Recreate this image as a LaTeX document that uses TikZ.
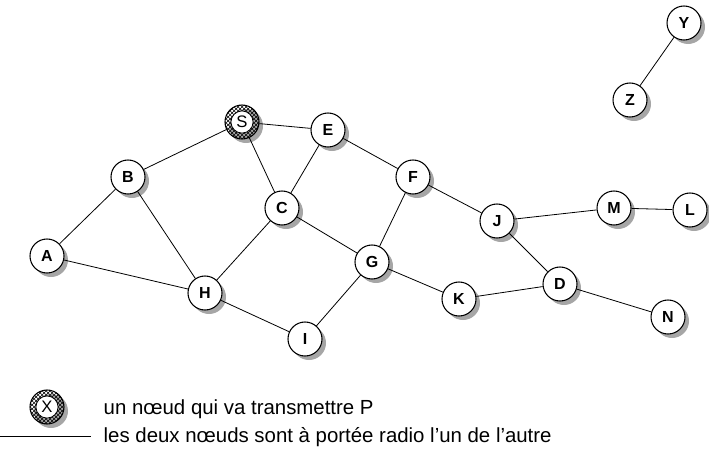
\documentclass[tikz,border=0pt]{standalone}
\usepackage{fontspec}
\setmainfont{Liberation Sans}
\usetikzlibrary{shadows,patterns}

\tikzset{
	station/.style={draw,circle,fill=white,line width=0.8pt,minimum size=25.5pt,inner sep=0pt,
		font=\fontsize{12}{13}\selectfont\bfseries,
		drop shadow={fill=black!35,opacity=1,shadow xshift=3pt,shadow yshift=-3pt}},
	sender/.style={station,pattern=crosshatch,font=\fontsize{12.5}{13}\selectfont,
		path picture={\fill[white] (path picture bounding box.center) circle (8.3pt);
			\draw[line width=0.6pt] (path picture bounding box.center) circle (8.3pt);}},
	link/.style={line width=0.6pt}
}

\begin{document}
\begin{tikzpicture}[x=0.75pt,y=-0.75pt]
	\useasboundingbox (0,0) rectangle (709,457);
	\node[sender] (s) at (242,122){S};
	\node[station] (e) at (328,130){E};
	\node[station] (b) at (128,177){B};
	\node[station] (f) at (413,177){F};
	\node[station] (c) at (282,208){C};
	\node[station] (j) at (497,221){J};
	\node[station] (m) at (614,208){M};
	\node[station] (l) at (690,210){L};
	\node[station] (a) at (47,256){A};
	\node[station] (g) at (372,262){G};
	\node[station] (d) at (560,284){D};
	\node[station] (h) at (205,293){H};
	\node[station] (k) at (459,299){K};
	\node[station] (n) at (668,317){N};
	\node[station] (i) at (305,339){I};
	\node[station] (y) at (684,23){Y};
	\node[station] (z) at (630,100){Z};
	\draw[link] (s) -- (b);
	\draw[link] (s) -- (e);
	\draw[link] (s) -- (c);
	\draw[link] (e) -- (c);
	\draw[link] (e) -- (f);
	\draw[link] (b) -- (a);
	\draw[link] (b) -- (h);
	\draw[link] (a) -- (h);
	\draw[link] (h) -- (c);
	\draw[link] (h) -- (i);
	\draw[link] (c) -- (g);
	\draw[link] (f) -- (g);
	\draw[link] (f) -- (j);
	\draw[link] (g) -- (i);
	\draw[link] (g) -- (k);
	\draw[link] (k) -- (d);
	\draw[link] (j) -- (d);
	\draw[link] (j) -- (m);
	\draw[link] (m) -- (l);
	\draw[link] (d) -- (n);
	\draw[link] (y) -- (z);
	% legende
	\node[sender] (x) at (47,407){X};
	\node[anchor=west,font=\fontsize{15.3}{17}\selectfont] (t1) at (99,409){un nœud qui va transmettre P};
	\node[anchor=west,font=\fontsize{15.3}{17}\selectfont] (t2) at (99,437){les deux nœuds sont à portée radio l’un de l’autre};
	\coordinate (l0) at (0,436);
	\coordinate (l1) at (91,436);
	\draw[link] (l0) -- (l1);
\end{tikzpicture}
\end{document}
